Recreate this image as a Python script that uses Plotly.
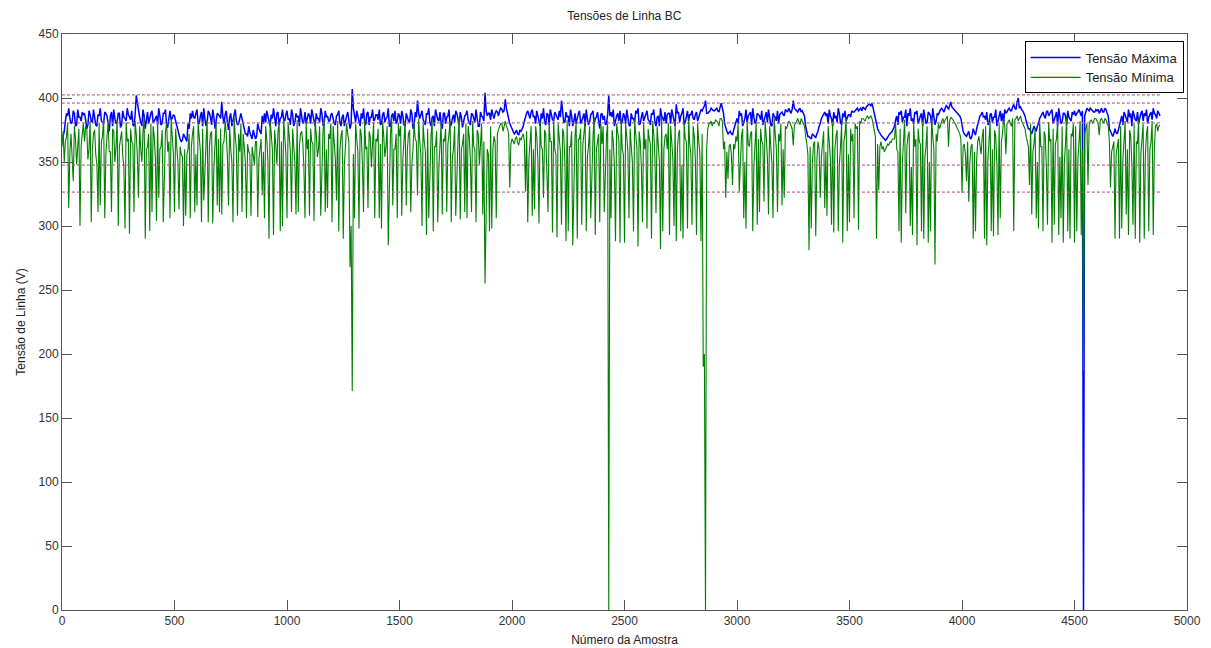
import plotly.graph_objects as go

# ---- data ----
# values at samples 0, 10, 20, ... 4880
tensao_maxima_a = [
    366, 374, 388, 392, 380, 390, 378, 391, 385, 389,
    388, 376, 390, 382, 391, 379, 387, 392, 381, 389,
    386, 374, 389, 391, 380, 388, 377, 390, 384, 392,
    384, 390, 378, 402, 388, 381, 391, 376, 389, 385,
    390, 382, 386, 392, 379, 388, 391, 377, 390, 384,
    386, 378, 370, 366, 372, 368, 380, 388, 390, 384,
    391, 380, 389, 392, 378, 390, 385, 391, 376, 388,
    386, 397, 380, 390, 375, 388, 382, 391, 379, 386,
    384, 376, 372, 378, 370, 375, 368, 380, 374, 386,
    388, 390, 380, 387, 392, 378, 389, 384, 391, 382,
    390, 384, 391, 378, 388, 386, 392, 380, 389, 383,
    386, 391, 380, 388, 384, 392, 379, 390, 386, 382,
    388, 380, 386, 390, 378, 387, 383, 389, 376, 407,
    386, 390, 381, 388, 392, 379, 389, 385, 391, 383,
    387, 391, 380, 389, 384, 392, 378, 388, 390, 382,
    386, 390, 379, 388, 382, 391, 376, 389, 398, 384,
    390, 381, 388, 392, 378, 386, 391, 383, 389, 376,
    388, 385, 391, 379, 387, 390, 382, 389, 377, 386,
    390, 380, 388, 384, 391, 378, 389, 385, 404, 386,
    388, 391, 384, 390, 386, 392, 389, 399, 386, 380,
    376, 372, 375, 371, 374, 378, 386, 390, 384, 391,
    386, 390, 380, 388, 392, 379, 387, 391, 383, 389,
    384, 390, 398, 381, 389, 386, 391, 378, 388, 385,
    390, 382, 388, 391, 379, 387, 390, 384, 389, 376,
    388, 386, 380, 402, 389, 391, 383, 388, 390, 381,
    386, 391, 379, 388, 384, 390, 392, 380, 389, 385,
    390, 382, 388, 391, 378, 386, 392, 384, 389, 387,
    388, 391, 384, 395, 389, 386, 392, 381, 390, 387,
    390, 383, 389, 386, 391, 392, 398, 388, 390, 391,
    390, 392, 389, 396, 388, 376, 372, 374, 371, 378,
    384, 390, 388, 381, 391, 386, 389, 392, 380, 388,
    386, 390, 383, 389, 391, 379, 388, 385, 390, 387,
    389, 386, 390, 392, 388, 398, 391, 389, 392, 390,
    386, 372, 370, 368, 371, 369, 374, 380, 386, 389,
    388, 391, 384, 389, 386, 392, 381, 388, 390, 385,
    387, 390, 389, 391, 390, 392, 393, 391, 394, 395,
    396, 388, 378, 374, 371, 369, 367, 370, 372, 374,
    378, 386, 389, 390, 385, 391, 388, 392, 384, 389,
    390, 384, 388, 391, 380, 389, 386, 392, 379, 388,
    390, 392, 389, 394, 391, 397, 392, 390, 388, 386,
    378, 372, 370, 374, 368, 376, 371, 380, 386, 389,
    386, 389, 380, 388, 385, 391, 383, 390, 388, 391,
    389, 392, 390, 395, 391, 400, 393, 390, 386, 378,
    376, 372, 378, 374, 380, 386, 389, 384, 390, 388,
    391, 384, 389, 392, 380, 388, 386, 390, 383, 389,
    390, 388, 391, 386, 0, 389, 391, 392, 390, 389,
    390, 388, 392, 389, 391, 386, 374, 370, 376, 372,
    378, 386, 389, 384, 391, 388, 390, 383, 389, 386,
    390, 388, 391, 385, 389, 392, 387, 390, 386,
]
# values at samples 5, 15, 25, ... 4875
tensao_maxima_b = [
    370, 382, 386, 384, 381, 388, 379, 385, 382, 387,
    383, 379, 387, 381, 385, 378, 386, 382, 380, 388,
    380, 386, 378, 384, 381, 388, 379, 385, 382, 387,
    383, 379, 387, 395, 385, 378, 386, 382, 380, 388,
    381, 385, 379, 386, 380, 388, 378, 384, 383, 387,
    382, 374, 368, 367, 369, 366, 376, 384, 385, 388,
    380, 386, 378, 384, 381, 388, 379, 385, 382, 387,
    384, 385, 387, 381, 385, 378, 386, 382, 380, 388,
    378, 372, 370, 373, 368, 371, 370, 376, 372, 380,
    381, 386, 378, 384, 382, 388, 379, 385, 383, 387,
    383, 379, 387, 381, 385, 378, 386, 382, 380, 388,
    380, 386, 378, 384, 381, 388, 379, 385, 382, 387,
    383, 379, 387, 381, 385, 378, 386, 382, 380, 392,
    381, 386, 378, 384, 381, 388, 379, 385, 382, 387,
    383, 379, 387, 381, 385, 378, 386, 382, 380, 388,
    380, 386, 378, 384, 381, 388, 379, 385, 388, 387,
    383, 379, 387, 381, 385, 378, 386, 382, 380, 388,
    380, 386, 378, 384, 381, 388, 379, 385, 382, 387,
    383, 379, 387, 381, 385, 378, 386, 382, 390, 388,
    383, 387, 388, 389, 390, 391, 390, 392, 384, 378,
    374, 373, 372, 375, 376, 382, 388, 386, 389, 385,
    380, 386, 378, 384, 381, 388, 379, 385, 382, 387,
    383, 385, 387, 381, 385, 378, 386, 382, 380, 388,
    380, 386, 378, 384, 381, 388, 379, 385, 382, 387,
    383, 379, 387, 386, 385, 378, 386, 382, 380, 388,
    380, 386, 378, 384, 381, 388, 379, 385, 382, 387,
    383, 379, 387, 381, 385, 378, 386, 382, 380, 388,
    380, 386, 378, 388, 381, 388, 379, 385, 382, 387,
    384, 387, 382, 388, 390, 394, 388, 389, 392, 390,
    391, 390, 393, 392, 380, 374, 373, 372, 375, 382,
    380, 386, 378, 384, 381, 388, 379, 385, 382, 387,
    383, 379, 387, 381, 385, 378, 386, 382, 380, 388,
    387, 391, 389, 390, 391, 392, 390, 391, 389, 388,
    378, 370, 369, 372, 370, 372, 378, 384, 388, 386,
    380, 386, 378, 384, 381, 388, 379, 385, 382, 387,
    385, 389, 390, 392, 391, 390, 392, 393, 395, 394,
    392, 382, 376, 372, 370, 368, 368, 371, 373, 376,
    383, 379, 387, 381, 385, 378, 386, 382, 380, 388,
    380, 386, 378, 384, 381, 388, 379, 385, 382, 387,
    391, 390, 392, 393, 394, 393, 391, 389, 387, 384,
    374, 371, 372, 369, 371, 373, 376, 383, 387, 385,
    383, 379, 387, 381, 385, 378, 386, 382, 380, 388,
    391, 390, 393, 392, 397, 392, 391, 388, 382, 376,
    374, 375, 376, 378, 384, 388, 386, 389, 386, 390,
    380, 386, 378, 384, 381, 388, 379, 385, 382, 387,
    386, 389, 388, 390, 386, 392, 390, 391, 389, 391,
    391, 390, 389, 392, 388, 376, 371, 372, 373, 375,
    383, 379, 387, 381, 385, 378, 386, 382, 380, 388,
    382, 386, 380, 387, 383, 388, 384, 388,
]

# values at samples 0, 10, 20, ... 4880
tensao_minima_a = [
    362, 350, 370, 314, 372, 335, 368, 360, 300, 372,
    366, 376, 360, 303, 372, 356, 311, 316, 370, 306,
    370, 358, 311, 374, 362, 300, 368, 355, 298, 366,
    294, 366, 311, 372, 322, 360, 374, 290, 362, 296,
    311, 370, 304, 322, 362, 303, 374, 358, 306, 368,
    311, 362, 313, 356, 300, 308, 360, 306, 372, 311,
    316, 370, 303, 320, 364, 303, 372, 302, 360, 316,
    311, 309, 366, 372, 316, 360, 303, 370, 308, 358,
    311, 362, 306, 358, 308, 355, 366, 307, 360, 324,
    306, 368, 290, 372, 293, 364, 374, 296, 300, 370,
    306, 370, 311, 362, 309, 311, 372, 366, 306, 360,
    308, 366, 304, 372, 360, 308, 374, 311, 314, 368,
    303, 364, 320, 296, 370, 290, 362, 372, 268, 171,
    306, 368, 298, 372, 311, 360, 314, 370, 364, 306,
    366, 306, 298, 370, 362, 285, 372, 316, 360, 306,
    370, 308, 364, 316, 372, 311, 360, 368, 324, 366,
    300, 366, 293, 306, 370, 296, 362, 303, 372, 309,
    366, 311, 372, 303, 360, 308, 368, 305, 364, 311,
    306, 370, 311, 362, 303, 372, 366, 309, 255, 360,
    296, 298, 370, 306, 376, 380, 374, 382, 376, 330,
    368, 364, 370, 363, 367, 372, 327, 303, 366, 308,
    313, 370, 302, 362, 322, 372, 311, 366, 295, 360,
    291, 366, 301, 372, 288, 296, 362, 285, 370, 290,
    368, 301, 372, 296, 362, 306, 370, 293, 366, 303,
    364, 311, 370, 0, 306, 366, 288, 372, 287, 360,
    287, 370, 306, 362, 296, 372, 284, 366, 303, 360,
    298, 368, 290, 372, 310, 364, 282, 296, 370, 360,
    293, 366, 300, 288, 372, 296, 290, 368, 298, 364,
    301, 370, 293, 366, 288, 190, 0, 376, 380, 378,
    380, 382, 378, 384, 360, 322, 337, 364, 332, 360,
    366, 327, 370, 306, 298, 364, 372, 296, 360, 301,
    311, 366, 319, 370, 309, 362, 306, 372, 311, 366,
    316, 322, 376, 382, 378, 363, 380, 384, 379, 382,
    378, 365, 281, 298, 364, 292, 366, 322, 362, 314,
    308, 366, 301, 295, 370, 296, 362, 287, 372, 296,
    303, 366, 306, 376, 297, 380, 384, 382, 386, 385,
    384, 376, 290, 328, 366, 362, 360, 364, 366, 368,
    368, 360, 296, 287, 366, 310, 370, 300, 293, 362,
    285, 366, 296, 290, 362, 287, 296, 370, 270, 366,
    376, 382, 380, 384, 362, 385, 383, 380, 376, 372,
    326, 364, 335, 319, 362, 290, 296, 366, 360, 370,
    290, 285, 366, 296, 292, 370, 293, 306, 372, 378,
    380, 383, 378, 296, 384, 382, 386, 380, 376, 366,
    332, 309, 364, 306, 298, 362, 296, 370, 301, 366,
    287, 301, 368, 293, 306, 287, 364, 296, 290, 370,
    287, 296, 366, 293, 187, 376, 332, 382, 380, 384,
    382, 371, 384, 380, 383, 378, 330, 364, 290, 362,
    290, 298, 366, 309, 293, 370, 301, 290, 364, 287,
    368, 290, 372, 296, 366, 293, 378, 374, 379,
]
# values at samples 5, 15, 25, ... 4875
tensao_minima_b = [
    374, 366, 380, 358, 352, 378, 348, 376, 362, 380,
    378, 352, 382, 360, 375, 348, 380, 366, 384, 356,
    380, 358, 376, 350, 383, 362, 374, 346, 381, 368,
    376, 364, 382, 354, 378, 350, 385, 360, 372, 380,
    378, 352, 382, 360, 375, 348, 380, 366, 384, 356,
    376, 350, 362, 354, 360, 356, 372, 362, 378, 356,
    380, 358, 376, 350, 383, 362, 374, 346, 381, 368,
    376, 364, 382, 354, 378, 350, 385, 360, 372, 380,
    372, 350, 364, 356, 362, 348, 366, 352, 368, 358,
    378, 352, 382, 360, 375, 348, 380, 366, 384, 356,
    380, 358, 376, 350, 383, 362, 374, 346, 381, 368,
    376, 364, 382, 354, 378, 350, 385, 360, 372, 380,
    378, 352, 382, 360, 375, 348, 380, 366, 300, 356,
    380, 358, 376, 350, 383, 362, 374, 346, 381, 368,
    376, 364, 382, 354, 378, 350, 385, 360, 372, 380,
    378, 352, 382, 360, 375, 348, 380, 366, 384, 356,
    380, 358, 376, 350, 383, 362, 374, 346, 381, 368,
    376, 364, 382, 354, 378, 350, 385, 360, 372, 380,
    378, 352, 382, 360, 375, 348, 380, 366, 300, 356,
    378, 360, 366, 372, 378, 380, 379, 378, 372, 364,
    366, 368, 365, 369, 370, 366, 374, 352, 378, 360,
    378, 352, 382, 360, 375, 348, 380, 366, 384, 356,
    380, 358, 376, 350, 383, 362, 374, 346, 381, 368,
    376, 364, 382, 354, 378, 350, 385, 360, 372, 380,
    378, 352, 382, 360, 375, 348, 380, 366, 384, 356,
    380, 358, 376, 350, 383, 362, 374, 346, 381, 368,
    376, 364, 382, 354, 378, 350, 385, 360, 372, 380,
    378, 352, 382, 360, 375, 348, 380, 366, 384, 356,
    378, 352, 380, 356, 372, 200, 360, 380, 382, 381,
    383, 381, 384, 382, 366, 358, 362, 356, 364, 370,
    380, 358, 376, 350, 383, 362, 374, 346, 381, 368,
    376, 364, 382, 354, 378, 350, 385, 360, 372, 380,
    360, 378, 380, 381, 376, 379, 383, 381, 384, 380,
    370, 356, 362, 350, 366, 352, 360, 354, 374, 358,
    378, 352, 382, 360, 375, 348, 380, 366, 384, 356,
    376, 372, 380, 378, 382, 384, 383, 385, 384, 386,
    380, 370, 364, 362, 360, 358, 362, 363, 365, 368,
    380, 358, 376, 350, 383, 362, 374, 346, 381, 368,
    376, 364, 382, 354, 378, 350, 385, 360, 372, 380,
    380, 384, 383, 386, 382, 384, 381, 378, 374, 368,
    362, 356, 366, 350, 364, 358, 352, 370, 356, 376,
    378, 352, 382, 360, 375, 348, 380, 366, 384, 356,
    382, 380, 384, 383, 386, 384, 382, 378, 370, 362,
    380, 358, 376, 350, 383, 362, 374, 346, 381, 368,
    376, 364, 382, 354, 378, 350, 385, 360, 372, 380,
    378, 352, 382, 360, 372, 380, 378, 383, 382, 384,
    380, 383, 381, 384, 380, 366, 358, 366, 356, 368,
    378, 352, 382, 360, 375, 348, 380, 366, 384, 356,
    380, 356, 378, 360, 382, 362, 380, 378,
]

passo_amostra = 10

# horizontal reference levels (V) and their x extent
niveis_referencia = [402.5, 396.0, 380.5, 347.5, 326.5]
extensao_referencia = [0, 4880]

x_ticks = [0, 500, 1000, 1500, 2000, 2500, 3000, 3500, 4000, 4500, 5000]
y_ticks = [0, 50, 100, 150, 200, 250, 300, 350, 400, 450]


def intercalar(a, b, passo):
    xs, ys = [], []
    for i, v in enumerate(a):
        xs.append(i * passo)
        ys.append(v)
        if i < len(b):
            xs.append(i * passo + passo // 2)
            ys.append(b[i])
    return xs, ys


x_max, y_max = intercalar(tensao_maxima_a, tensao_maxima_b, passo_amostra)
x_min, y_min = intercalar(tensao_minima_a, tensao_minima_b, passo_amostra)

FONT = "Liberation Sans, Arial, Helvetica, sans-serif"

fig = go.Figure()

fig.add_trace(go.Scatter(
    x=x_max, y=y_max, mode="lines", name="Tensão Máxima",
    line=dict(color="rgb(0,0,255)", width=1.5),
))
fig.add_trace(go.Scatter(
    x=x_min, y=y_min, mode="lines", name="Tensão Mínima",
    line=dict(color="rgb(0,128,0)", width=1.1),
))

for nivel in niveis_referencia:
    fig.add_trace(go.Scatter(
        x=extensao_referencia, y=[nivel, nivel], mode="lines", showlegend=False,
        line=dict(color="rgba(200,60,140,0.75)", width=1.2, dash="3px,2px"),
        hoverinfo="skip",
    ))
    fig.add_trace(go.Scatter(
        x=extensao_referencia, y=[nivel, nivel], mode="lines", showlegend=False,
        line=dict(color="rgba(70,170,130,0.8)", width=1, dash="1px,4px"),
        hoverinfo="skip",
    ))

axis_common = dict(
    showline=True, linecolor="#555555", linewidth=1, mirror="ticks",
    ticks="inside", ticklen=10, tickcolor="#555555", tickwidth=1,
    showgrid=False, zeroline=False, automargin=False,
    tickfont=dict(family=FONT, size=12, color="#333333"),
)

fig.update_layout(
    width=1211, height=648,
    margin=dict(l=62, r=24, t=34, b=38),
    paper_bgcolor="white", plot_bgcolor="white",
    title=dict(text="Tensões de Linha BC", x=0.5155, xanchor="center", y=0.975, yanchor="middle",
               font=dict(family=FONT, size=12, color="#222222")),
    legend=dict(x=0.997, y=0.987, xanchor="right", yanchor="top",
                bgcolor="white", bordercolor="black", borderwidth=1,
                font=dict(family=FONT, size=13, color="#222222"),
                itemwidth=50, tracegroupgap=0),
    showlegend=True,
)
fig.update_xaxes(range=[0, 5000], tickvals=x_ticks, **axis_common,
                 title=dict(text="Número da Amostra", standoff=8,
                            font=dict(family=FONT, size=12, color="#222222")))
fig.update_yaxes(range=[0, 450], tickvals=y_ticks, **axis_common,
                 title=dict(text="Tensão de Linha (V)", standoff=10,
                            font=dict(family=FONT, size=12, color="#222222")))

fig.write_html("out.html")
